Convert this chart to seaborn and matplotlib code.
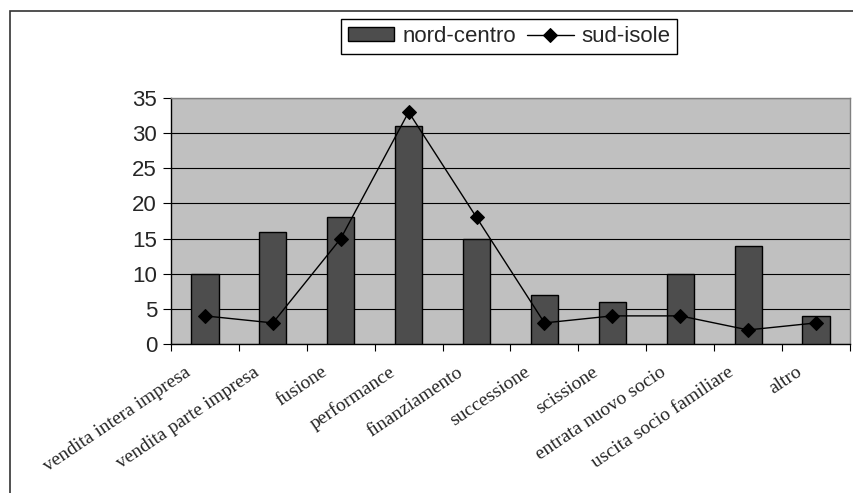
import matplotlib
matplotlib.use("Agg")
import matplotlib.pyplot as plt
from matplotlib.patches import Rectangle
from matplotlib.ticker import FixedLocator
import seaborn as sns
import pandas as pd

categorie = [
    "vendita intera impresa", "vendita parte impresa", "fusione", "performance",
    "finanziamento", "successione", "scissione", "entrata nuovo socio",
    "uscita socio familiare", "altro",
]
nord_centro = [10, 16, 18, 31, 15, 7, 6, 10, 14, 4]
sud_isole = [4, 3, 15, 33, 18, 3, 4, 4, 2, 3]
y_ticks = [0, 5, 10, 15, 20, 25, 30, 35]

df = pd.DataFrame({"categoria": categorie, "nord-centro": nord_centro, "sud-isole": sud_isole})

sns.set_theme(style="white")
plt.rcParams["font.family"] = ["Liberation Sans", "DejaVu Sans"]

W, H = 854, 493
fig = plt.figure(figsize=(W / 100, H / 100), dpi=100)

# outer chart frame (left and top edges visible)
fig.patches.append(Rectangle((10 / W, -0.1), 1.2, 1 - 11 / H + 0.1, transform=fig.transFigure,
                             fill=False, edgecolor="#333333", linewidth=1.2))

ax = fig.add_axes([171 / W, 1 - 344 / H, (850 - 171) / W, (344 - 98) / H])
ax.set_facecolor("#C0C0C0")
ax.set_axisbelow(True)
ax.grid(axis="y", color="black", linewidth=0.8)
ax.grid(axis="x", visible=False)

sns.barplot(data=df, x="categoria", y="nord-centro", ax=ax, color="#4D4D4D",
            saturation=1, width=0.4, edgecolor="black", linewidth=1.0,
            label="nord-centro", zorder=3)
sns.pointplot(data=df, x="categoria", y="sud-isole", ax=ax, color="black",
              markers="D", markersize=7, linewidth=1.0, label="sud-isole", zorder=4)

ax.set_xlim(-0.5, len(categorie) - 0.5)
ax.set_ylim(0, 35)
ax.set_yticks(y_ticks)
ax.set_xlabel("")
ax.set_ylabel("")

# rotated labels end slightly left of each category centre
ax.set_xticks([i - 0.3 for i in range(len(categorie))])
ax.set_xticklabels(categorie, rotation=34, ha="right", rotation_mode="anchor",
                   family=["Liberation Serif", "DejaVu Serif"], fontsize=14)
ax.tick_params(axis="x", which="major", length=0, pad=14)
ax.xaxis.set_minor_locator(FixedLocator([i - 0.5 for i in range(len(categorie) + 1)]))
ax.tick_params(axis="x", which="minor", length=5, width=0.8, color="black", direction="out", bottom=True)
ax.tick_params(axis="y", length=6, width=0.8, color="black", direction="out", left=True,
               labelsize=16, pad=4)

for s in ["left", "bottom"]:
    ax.spines[s].set_color("black")
    ax.spines[s].set_linewidth(1.0)
for s in ["top", "right"]:
    ax.spines[s].set_color("#808080")
    ax.spines[s].set_linewidth(1.0)

handles, names = ax.get_legend_handles_labels()
order = [names.index("nord-centro"), names.index("sud-isole")]
ax.legend([handles[i] for i in order], [names[i] for i in order],
          loc="center", bbox_to_anchor=((336 + 682) / 2 / W, 1 - 36.5 / H),
          bbox_transform=fig.transFigure, ncol=2, frameon=True, fancybox=False,
          edgecolor="black", facecolor="white", framealpha=1, fontsize=16,
          handlelength=2.1, handleheight=0.55, columnspacing=0.5, handletextpad=0.35,
          borderpad=0.3, borderaxespad=0)

fig.savefig("out.png", dpi=100, facecolor="white")
